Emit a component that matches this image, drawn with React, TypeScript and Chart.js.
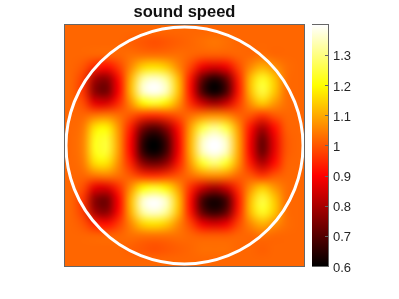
import React, { useEffect, useRef } from "react";
import { Chart, registerables } from "chart.js";

Chart.register(...registerables);

const title = "sound speed";
const colorTicks = [0.6, 0.7, 0.8, 0.9, 1, 1.1, 1.2, 1.3];
const colorMin = 0.6;
const colorMax = 1.399;
const gridX = [-0.95, -0.85, -0.75, -0.65, -0.55, -0.45, -0.35, -0.25, -0.15, -0.05, 0.05, 0.15, 0.25, 0.35, 0.45, 0.55, 0.65, 0.75, 0.85, 0.95];
const gridY = [0.95, 0.85, 0.75, 0.65, 0.55, 0.45, 0.35, 0.25, 0.15, 0.05, -0.05, -0.15, -0.25, -0.35, -0.45, -0.55, -0.65, -0.75, -0.85, -0.95];
const circleCentre = [{ x: 0, y: 0 }];

const soundSpeed: number[][] = [
  [1.02, 1.02, 1.02, 1.02, 1.02, 1.02, 1.02, 1.02, 1.02, 1.02, 1.02, 1.02, 1.02, 1.02, 1.02, 1.02, 1.02, 1.02, 1.02, 1.02],
  [1.02, 1.02, 1.02, 1.02, 1.02, 1.01, 1.0, 0.99, 1.0, 1.01, 1.02, 1.03, 1.04, 1.03, 1.02, 1.02, 1.02, 1.02, 1.02, 1.02],
  [1.02, 1.02, 1.02, 1.02, 1.02, 1.03, 1.03, 1.03, 1.03, 1.03, 1.02, 1.01, 1.01, 1.01, 1.02, 1.02, 1.03, 1.02, 1.02, 1.02],
  [1.02, 1.0, 0.94, 0.91, 0.97, 1.06, 1.15, 1.17, 1.14, 1.06, 0.98, 0.88, 0.85, 0.88, 0.98, 1.06, 1.11, 1.07, 1.03, 1.02],
  [1.02, 0.97, 0.79, 0.76, 0.91, 1.11, 1.33, 1.37, 1.32, 1.12, 0.92, 0.71, 0.63, 0.71, 0.93, 1.12, 1.23, 1.14, 1.03, 1.02],
  [1.02, 0.96, 0.76, 0.73, 0.9, 1.12, 1.36, 1.4, 1.35, 1.13, 0.91, 0.68, 0.6, 0.68, 0.92, 1.12, 1.25, 1.14, 1.03, 1.02],
  [1.02, 0.99, 0.87, 0.86, 0.95, 1.07, 1.19, 1.23, 1.18, 1.08, 0.95, 0.84, 0.79, 0.84, 0.96, 1.07, 1.14, 1.08, 1.03, 1.02],
  [1.02, 1.02, 1.04, 1.05, 1.03, 1.0, 0.96, 0.95, 0.97, 1.0, 1.03, 1.06, 1.07, 1.06, 1.02, 1.0, 0.96, 1.0, 1.02, 1.02],
  [1.02, 1.04, 1.17, 1.19, 1.07, 0.93, 0.75, 0.7, 0.77, 0.92, 1.09, 1.25, 1.31, 1.25, 1.08, 0.92, 0.8, 0.91, 1.01, 1.02],
  [1.02, 1.05, 1.22, 1.24, 1.08, 0.9, 0.66, 0.6, 0.68, 0.89, 1.11, 1.35, 1.4, 1.35, 1.1, 0.89, 0.72, 0.87, 1.0, 1.02],
  [1.02, 1.05, 1.22, 1.24, 1.08, 0.9, 0.66, 0.6, 0.68, 0.89, 1.11, 1.35, 1.4, 1.35, 1.1, 0.89, 0.72, 0.87, 1.0, 1.02],
  [1.02, 1.04, 1.16, 1.17, 1.06, 0.94, 0.77, 0.73, 0.78, 0.93, 1.08, 1.23, 1.29, 1.23, 1.08, 0.93, 0.81, 0.91, 1.01, 1.02],
  [1.02, 1.02, 1.04, 1.05, 1.03, 1.0, 0.96, 0.95, 0.97, 1.0, 1.03, 1.06, 1.07, 1.06, 1.02, 1.0, 0.96, 1.0, 1.02, 1.02],
  [1.02, 0.99, 0.87, 0.86, 0.95, 1.07, 1.19, 1.23, 1.18, 1.08, 0.95, 0.84, 0.79, 0.84, 0.96, 1.07, 1.14, 1.08, 1.03, 1.02],
  [1.02, 0.96, 0.76, 0.73, 0.9, 1.12, 1.36, 1.4, 1.35, 1.13, 0.91, 0.68, 0.62, 0.68, 0.92, 1.12, 1.25, 1.14, 1.03, 1.02],
  [1.02, 0.97, 0.79, 0.76, 0.91, 1.11, 1.33, 1.37, 1.32, 1.12, 0.92, 0.71, 0.65, 0.71, 0.93, 1.12, 1.23, 1.14, 1.03, 1.02],
  [1.02, 1.0, 0.94, 0.91, 0.97, 1.06, 1.15, 1.17, 1.14, 1.06, 0.98, 0.88, 0.85, 0.88, 0.98, 1.06, 1.11, 1.07, 1.03, 1.02],
  [1.02, 1.02, 1.02, 1.02, 1.02, 1.03, 1.03, 1.03, 1.03, 1.03, 1.02, 1.01, 1.01, 1.01, 1.02, 1.02, 1.03, 1.02, 1.02, 1.02],
  [1.02, 1.02, 1.02, 1.02, 1.02, 1.01, 1.0, 0.99, 1.0, 1.01, 1.02, 1.03, 1.03, 1.03, 1.02, 1.02, 1.01, 1.02, 1.02, 1.02],
  [1.02, 1.02, 1.02, 1.02, 1.02, 1.02, 1.02, 1.02, 1.02, 1.02, 1.02, 1.02, 1.02, 1.02, 1.02, 1.02, 1.02, 1.02, 1.02, 1.02],
];

const FONT = "'Liberation Sans', Arial, sans-serif";
const FRAME = "#666666";

function hot(v: number): string {
  const t = Math.max(0, Math.min(1, (v - colorMin) / (colorMax - colorMin)));
  const r = Math.min(1, t / 0.375);
  const g = Math.max(0, Math.min(1, (t - 0.375) / 0.375));
  const b = Math.max(0, (t - 0.75) / 0.25);
  return `rgb(${Math.round(r * 255)},${Math.round(g * 255)},${Math.round(b * 255)})`;
}

const heatPoints = soundSpeed.flatMap((row, j) => row.map((v, i) => ({ x: gridX[i], y: gridY[j], v })));

const framePlugin = {
  id: "frame",
  afterDraw(chart: any) {
    const { ctx, chartArea: a } = chart;
    ctx.save();
    ctx.strokeStyle = FRAME;
    ctx.lineWidth = 1;
    ctx.strokeRect(Math.round(a.left) - 0.5, Math.round(a.top) - 0.5, Math.round(a.width) + 1, Math.round(a.height) + 1);
    const y = chart.scales.y;
    if (chart.canvas.dataset.role === "bar") {
      y.ticks.forEach((_: any, i: number) => {
        const p = Math.round(y.getPixelForTick(i)) + 0.5;
        ctx.beginPath();
        ctx.moveTo(a.right - 3, p);
        ctx.lineTo(a.right, p);
        ctx.stroke();
      });
    }
    ctx.restore();
  },
};

const smoothPlugin = {
  id: "smooth",
  afterDatasetDraw(chart: any, args: any) {
    if (args.index !== 1) return;
    const { ctx, chartArea: a, canvas } = chart;
    const n = gridX.length;
    const m = gridY.length;
    const tmp = document.createElement("canvas");
    tmp.width = n;
    tmp.height = m;
    const t = tmp.getContext("2d")!;
    t.imageSmoothingEnabled = false;
    t.drawImage(canvas, a.left, a.top, a.width, a.height, 0, 0, n, m);
    ctx.save();
    ctx.imageSmoothingEnabled = true;
    ctx.imageSmoothingQuality = "high";
    ctx.drawImage(tmp, 0, 0, n, m, a.left, a.top, a.width, a.height);
    ctx.restore();
  },
};

export default function App() {
  const mainRef = useRef<HTMLCanvasElement>(null);
  const barRef = useRef<HTMLCanvasElement>(null);

  useEffect(() => {
    const main = new Chart(mainRef.current!, {
      type: "scatter",
      data: {
        datasets: [
          {
            label: "boundary",
            data: circleCentre,
            pointStyle: "circle",
            pointRadius: 118.5,
            pointBorderWidth: 3,
            pointBorderColor: "#ffffff",
            pointBackgroundColor: "rgba(0,0,0,0)",
            clip: false,
          },
          {
            label: title,
            data: heatPoints,
            pointStyle: "rect",
            pointRadius: 9.5,
            pointBorderWidth: 0,
            pointBackgroundColor: heatPoints.map((p) => hot(p.v)),
          },
        ],
      } as any,
      options: {
        animation: false,
        responsive: false,
        layout: { autoPadding: false, padding: { left: 65, right: 95, top: 0, bottom: 33 } },
        plugins: {
          legend: { display: false },
          tooltip: { enabled: false },
          title: {
            display: true,
            text: title,
            color: "#111111",
            font: { family: FONT, size: 16.5, weight: "bold", lineHeight: 1.2 },
            padding: { top: 3, bottom: 2.2 },
          },
        },
        scales: {
          x: { type: "linear", min: -1, max: 1, display: false },
          y: { type: "linear", min: -1, max: 1, display: false },
        },
      } as any,
      plugins: [smoothPlugin, framePlugin],
    });

    const bar = new Chart(barRef.current!, {
      type: "bar",
      data: {
        labels: ["sound speed"],
        datasets: [
          {
            data: [[colorMin, colorMax]],
            barPercentage: 1,
            categoryPercentage: 1,
            borderWidth: 0,
            backgroundColor(c: any) {
              const a = c.chart.chartArea;
              if (!a) return "#000";
              const g = c.chart.ctx.createLinearGradient(0, a.bottom, 0, a.top);
              g.addColorStop(0, "#000000");
              g.addColorStop(0.375, "#ff0000");
              g.addColorStop(0.75, "#ffff00");
              g.addColorStop(1, "#ffffff");
              return g;
            },
          },
        ],
      } as any,
      options: {
        animation: false,
        responsive: false,
        layout: { padding: { left: 0, right: 0, top: 25, bottom: 33 } },
        plugins: { legend: { display: false }, tooltip: { enabled: false } },
        scales: {
          x: { display: false },
          y: {
            position: "right",
            min: colorMin,
            max: colorMax,
            afterFit(s: any) {
              s.width = 71;
            },
            afterBuildTicks(s: any) {
              s.ticks = colorTicks.map((value) => ({ value }));
            },
            grid: { display: false, drawTicks: false },
            border: { display: false },
            ticks: {
              color: "#262626",
              padding: 5,
              labelOffset: 2,
              font: { family: FONT, size: 13 },
              callback: (v: number) => String(v),
            },
          },
        },
      } as any,
      plugins: [framePlugin],
    });

    return () => {
      main.destroy();
      bar.destroy();
    };
  }, []);

  return (
    <div style={{ position: "fixed", left: 0, top: 0, width: 399, height: 299, background: "#fff" }}>
      <canvas ref={mainRef} width={399} height={299} style={{ position: "absolute", left: 0, top: 0 }} />
      <canvas ref={barRef} data-role="bar" width={87} height={299} style={{ position: "absolute", left: 312, top: 0 }} />
    </div>
  );
}
